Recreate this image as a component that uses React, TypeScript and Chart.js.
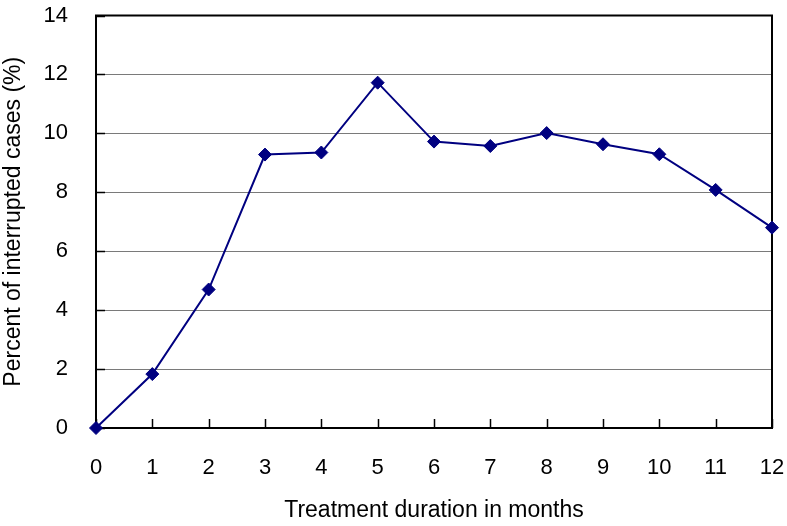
import React, { useEffect, useRef } from "react";
import { Chart, registerables } from "chart.js";

Chart.register(...registerables);

const months: number[] = [0, 1, 2, 3, 4, 5, 6, 7, 8, 9, 10, 11, 12];
const percentInterrupted: number[] = [0, 1.83, 4.7, 9.28, 9.35, 11.72, 9.72, 9.57, 10.01, 9.63, 9.29, 8.08, 6.8];
const yTickValues: number[] = [0, 2, 4, 6, 8, 10, 12, 14];
const xTitle = "Treatment duration in months";
const yTitle = "Percent of interrupted cases (%)";

const FONT = "'Liberation Sans', Arial, sans-serif";
const FS = 22;
const TFS = 23;

const boxPlugin = {
  id: "boxPlugin",
  beforeDatasetsDraw(chart: any) {
    const { ctx, chartArea, scales } = chart;
    const { left, top, right, bottom } = chartArea;
    const x = scales.x;
    const y = scales.y;
    ctx.save();
    ctx.strokeStyle = "#000";
    ctx.lineWidth = 1.5;
    ctx.beginPath();
    for (const v of yTickValues) {
      const py = Math.round(y.getPixelForValue(v)) + 0.5;
      ctx.moveTo(left, py);
      ctx.lineTo(left + 9, py);
    }
    for (const v of months) {
      const px = Math.round(x.getPixelForValue(v)) + 0.5;
      ctx.moveTo(px, bottom);
      ctx.lineTo(px, bottom - 9);
    }
    ctx.stroke();
    ctx.lineWidth = 2;
    ctx.strokeRect(left, top, right - left, bottom - top);
    ctx.restore();
  },
};

export default function App() {
  const ref = useRef<HTMLCanvasElement | null>(null);
  useEffect(() => {
    if (!ref.current) return;
    const chart = new Chart(ref.current, {
      type: "line",
      data: {
        datasets: [
          {
            data: months.map((m, i) => ({ x: m, y: percentInterrupted[i] })),
            borderColor: "#000080",
            backgroundColor: "#000080",
            borderWidth: 2,
            pointStyle: "rectRot",
            pointRadius: 6.5,
            pointBorderWidth: 1,
            pointBackgroundColor: "#000080",
            pointBorderColor: "#000080",
            tension: 0,
            clip: false,
          } as any,
        ],
      },
      options: {
        responsive: false,
        animation: false,
        layout: { padding: { top: 15.5, right: 15, left: 0, bottom: 0 } },
        plugins: { legend: { display: false }, tooltip: { enabled: false } },
        scales: {
          x: {
            type: "linear",
            min: 0,
            max: 12,
            afterFit: (s: any) => {
              s.height = 98;
            },
            ticks: {
              stepSize: 1,
              color: "#000",
              padding: 0,
              font: { family: FONT, size: FS },
              maxRotation: 0,
            },
            grid: { display: false, drawTicks: true, tickLength: 27, tickColor: "rgba(0,0,0,0)" },
            border: { display: false },
            title: {
              display: true,
              text: xTitle,
              color: "#000",
              font: { family: FONT, size: TFS },
              padding: { top: 0, bottom: 2 },
            },
          },
          y: {
            min: 0,
            max: 14,
            afterFit: (s: any) => {
              s.width = 96;
            },
            ticks: {
              stepSize: 2,
              color: "#000",
              padding: 0,
              font: { family: FONT, size: FS },
            },
            grid: {
              color: "#7a7a7a",
              lineWidth: 1,
              drawTicks: true,
              tickLength: 28,
              tickColor: "rgba(0,0,0,0)",
            },
            border: { display: false },
            title: {
              display: true,
              text: yTitle,
              color: "#000",
              font: { family: FONT, size: TFS },
              padding: { top: 0, bottom: 0 },
            },
          },
        },
      },
      plugins: [boxPlugin],
    });
    return () => chart.destroy();
  }, []);
  return (
    <div style={{ position: "absolute", left: 0, top: 0, width: 787, height: 526 }}>
      <canvas ref={ref} width={787} height={526} />
    </div>
  );
}
